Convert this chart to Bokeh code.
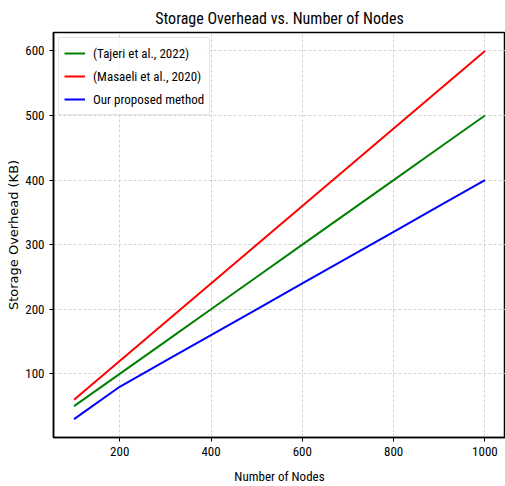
from bokeh.plotting import figure
from bokeh.models import Range1d, Legend, LegendItem, FixedTicker
from bokeh.embed import file_html
from bokeh.resources import INLINE

nodes = [100, 200, 300, 400, 500, 600, 700, 800, 900, 1000]
tajeri = [50, 100, 150, 200, 250, 300, 350, 400, 450, 500]
masaeli = [60, 120, 180, 240, 300, 360, 420, 480, 540, 600]
proposed = [30, 80, 120, 160, 200, 240, 280, 320, 360, 400]

x_ticks = [200, 400, 600, 800, 1000]
y_ticks = [100, 200, 300, 400, 500, 600]

FONT = "Roboto Condensed"

p = figure(width=505, height=486, output_backend="svg", toolbar_location=None,
           title="Storage Overhead vs. Number of Nodes",
           x_range=Range1d(55, 1045), y_range=Range1d(1.5, 628.5),
           min_border_left=53, min_border_right=0, min_border_top=32, min_border_bottom=48)

p.title.align = "center"
p.title.text_font = FONT
p.title.text_font_size = "16px"
p.title.text_font_style = "normal"
p.title.text_color = "black"
p.title.offset = 0

l1 = p.line(nodes, tajeri, line_color="green", line_width=2)
l2 = p.line(nodes, masaeli, line_color="red", line_width=2)
l3 = p.line(nodes, proposed, line_color="blue", line_width=2)

p.xaxis.ticker = FixedTicker(ticks=x_ticks)
p.yaxis.ticker = FixedTicker(ticks=y_ticks)
p.xaxis.axis_label = "Number of Nodes"
p.yaxis.axis_label = "Storage Overhead (KB)"
for ax in (p.xaxis, p.yaxis):
    ax.major_label_text_font = FONT
    ax.major_label_text_font_size = "13px"
    ax.major_label_text_color = "black"
    ax.axis_label_text_font_style = "normal"
    ax.axis_label_text_font_size = "13px"
    ax.axis_label_text_color = "black"
    ax.minor_tick_line_color = None
    ax.major_tick_in = 0
    ax.major_tick_out = 4
    ax.axis_line_color = "black"
    ax.axis_line_width = 1.5
p.xaxis.axis_label_text_font = FONT
p.xaxis.axis_label_standoff = 10
p.yaxis.axis_label_text_font = "DejaVu Sans"
p.yaxis.axis_label_text_font_size = "13px"
p.yaxis.axis_label_standoff = 1

p.grid.grid_line_color = "#c8c8c8"
p.grid.grid_line_dash = "3 2"
p.grid.grid_line_width = 0.8
p.outline_line_color = "black"
p.outline_line_width = 1.5

legend = Legend(items=[
    LegendItem(label="(Tajeri et al., 2022)", renderers=[l1]),
    LegendItem(label="(Masaeli et al., 2020)", renderers=[l2]),
    LegendItem(label="Our proposed method", renderers=[l3]),
], location="top_left")
legend.label_text_font = FONT
legend.label_text_font_size = "13px"
legend.label_text_color = "black"
legend.border_line_color = "#cccccc"
legend.border_line_width = 1
legend.background_fill_alpha = 0.8
legend.glyph_width = 21
legend.label_standoff = 8
legend.spacing = 3
legend.padding = 5
legend.margin = 5
legend.label_height = 20
legend.glyph_height = 20
p.add_layout(legend)

open("out.html", "w").write(file_html(p, INLINE))
